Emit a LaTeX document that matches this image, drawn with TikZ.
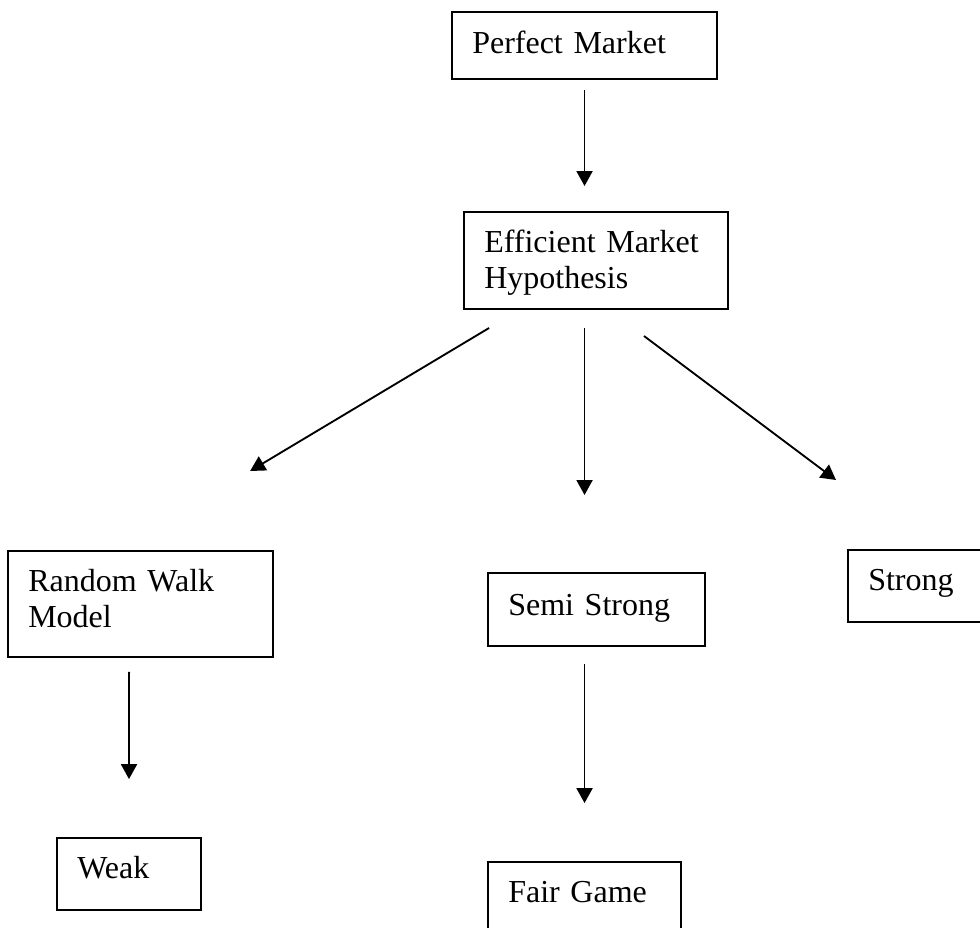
\documentclass[tikz,border=0pt]{standalone}
\usepackage{fontspec}
\setmainfont{Liberation Serif}
\usetikzlibrary{arrows.meta}

\begin{document}
\begin{tikzpicture}[
	x=0.375pt, y=-0.375pt,
	font=\fontsize{12}{13.8}\selectfont,
	bx/.style={
		draw,
		line width=0.7pt,
		anchor=north west,
		align=left,
		inner xsep=7.6pt,
		inner ysep=0pt,
		outer sep=0pt,
		text height=15pt
	},
	arr/.style={
		line width=0.7pt,
		-{Triangle[length=5.6pt,width=6pt]}
	}
	]
	\useasboundingbox (0,0) rectangle (980,928);
	\clip (0,0) rectangle (980,928);

	\node [bx, text width=84.2pt, text height=15.4pt, text depth=9.75pt] (Perfect) at (452,12) {Perfect Market};
	\node [bx, text width=83.8pt, text depth=21.4pt] (EMH) at (464,212) {Efficient Market\\Hypothesis};

	\node [bx, text width=84.2pt, text depth=24.75pt] (Random) at (8,551) {Random Walk\\Model};
	\node [bx, text width=66.2pt, text height=15.75pt, text depth=11.6pt] (Semi) at (488,573) {Semi Strong};
	\node [bx, text width=48.6pt, text depth=12pt] (Strong) at (848,550) {Strong};

	\node [bx, text width=38.8pt, text depth=12pt] (Weak) at (57,838) {Weak};
	\node [bx, text width=57.2pt, text depth=12pt] (Fair) at (488,862) {Fair Game};

	\draw [arr] ([yshift=-4.1pt]Perfect.south) -- ([shift={(-4.3pt,9.75pt)}]EMH.north);
	\draw [arr] ([shift={(-40.1pt,-7.1pt)}]EMH.south) -- ([shift={(41.1pt,30pt)}]Random.north);
	\draw [arr] ([shift={(-4.3pt,-7.1pt)}]EMH.south) -- ([shift={(-4.5pt,29.25pt)}]Semi.north);
	\draw [arr] ([shift={(18pt,-10.1pt)}]EMH.south) -- ([shift={(-4.5pt,26.25pt)}]Strong.north west);
	\draw [arr] ([shift={(-4.3pt,-5.6pt)}]Random.south) -- ([yshift=22.1pt]Weak.north);
	\draw [arr] ([shift={(-4.5pt,-6.75pt)}]Semi.south) -- ([yshift=22.1pt]Fair.north);

\end{tikzpicture}
\end{document}
